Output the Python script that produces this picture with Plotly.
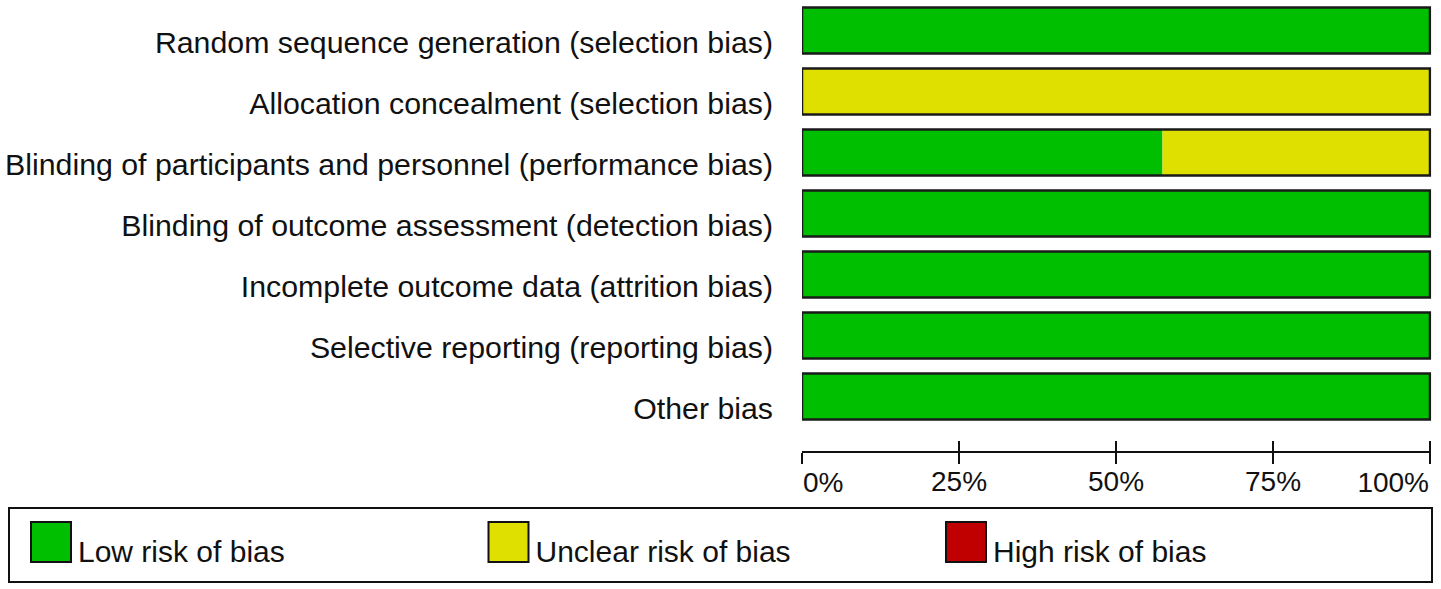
import plotly.graph_objects as go

domains = [
    "Random sequence generation (selection bias)",
    "Allocation concealment (selection bias)",
    "Blinding of participants and personnel (performance bias)",
    "Blinding of outcome assessment (detection bias)",
    "Incomplete outcome data (attrition bias)",
    "Selective reporting (reporting bias)",
    "Other bias",
]
low_risk = [100, 0, 57.4, 100, 100, 100, 100]
unclear_risk = [0, 100, 42.6, 0, 0, 0, 0]
high_risk = [0, 0, 0, 0, 0, 0, 0]

legend_labels = ["Low risk of bias", "Unclear risk of bias", "High risk of bias"]
colors = ["#00BF00", "#DFDF00", "#C00000"]

tick_vals = [0, 25, 50, 75, 100]
tick_text = ["0%", "25%", "50%", "75%", "100%"]

W, H = 1441, 589
FONT = "Liberation Sans, Arial, sans-serif"

fig = go.Figure()

base_unclear = list(low_risk)
base_high = [a + b for a, b in zip(low_risk, unclear_risk)]
totals = [a + b + c for a, b, c in zip(low_risk, unclear_risk, high_risk)]

for vals, base, col in [(low_risk, [0] * len(low_risk), colors[0]),
                        (unclear_risk, base_unclear, colors[1]),
                        (high_risk, base_high, colors[2])]:
    fig.add_trace(go.Bar(y=domains, x=vals, base=base, orientation="h",
                         marker=dict(color=col, line=dict(width=0)),
                         width=0.755, showlegend=False, hoverinfo="skip"))

# outline around each full bar
fig.add_trace(go.Bar(y=domains, x=totals, orientation="h",
                     marker=dict(color="rgba(0,0,0,0)", line=dict(color="#1a1a1a", width=2.5)),
                     width=0.755, showlegend=False, hoverinfo="skip"))

# carriers for the helper x axes (upward ticks, end labels)
for xa in ["x2", "x4", "x5"]:
    fig.add_trace(go.Scatter(x=[0, 100], y=[domains[0], domains[0]], xaxis=xa, yaxis="y",
                             mode="markers", marker=dict(opacity=0), showlegend=False,
                             hoverinfo="skip"))

# carrier for the label axis (labels sit slightly below bar centres)
fig.add_trace(go.Scatter(x=[0] * len(domains), y=domains, xaxis="x", yaxis="y2",
                         mode="markers", marker=dict(opacity=0), showlegend=False, hoverinfo="skip"))

# legend drawn as a scatter row
leg_x = [0, 1, 2]
fig.add_trace(go.Scatter(x=leg_x, y=[0.08] * 3, xaxis="x3", yaxis="y3",
                         mode="markers",
                         marker=dict(symbol="square", size=40, color=colors,
                                     line=dict(color="#111", width=2)),
                         showlegend=False, hoverinfo="skip", cliponaxis=False))
fig.add_trace(go.Scatter(x=[v + 27 / 457.5 for v in leg_x], y=[-0.25] * 3, xaxis="x3", yaxis="y3",
                         mode="text", text=legend_labels, textposition="middle right",
                         textfont=dict(family=FONT, size=30, color="#111"),
                         showlegend=False, hoverinfo="skip", cliponaxis=False))

axis_pos = 1 - 452 / H
x_end = 100.2
x_dom = [802 / W, (802 + 628 * x_end / 100) / W]
y_dom = [1 - 427 / H, 1]
shift = 12 / 61

tick_font = dict(family=FONT, size=28, color="#111")
mid_text = [""] + tick_text[1:-1] + [""]

common_x = dict(domain=x_dom, range=[0, x_end], anchor="free", position=axis_pos,
                automargin=False, showgrid=False, zeroline=False, fixedrange=True)

fig.update_layout(
    width=W, height=H,
    margin=dict(l=0, r=0, t=0, b=0, pad=0),
    paper_bgcolor="white", plot_bgcolor="white",
    barmode="overlay",
    showlegend=False,
    xaxis=dict(**common_x, showline=True, linecolor="#111", linewidth=2,
               ticks="outside", ticklen=11, tickwidth=2, tickcolor="#111",
               tickvals=tick_vals, ticktext=mid_text,
               ticklabeloverflow="allow", ticklabelstandoff=-7, tickfont=tick_font),
    xaxis2=dict(**common_x, overlaying="x", showline=False,
                ticks="inside", ticklen=11, tickwidth=2, tickcolor="#111",
                tickvals=tick_vals, showticklabels=False),
    xaxis4=dict(**common_x, overlaying="x", showline=False,
                ticks="outside", ticklen=11, tickwidth=2, tickcolor="#111",
                tickvals=tick_vals[:1], ticktext=tick_text[:1],
                ticklabelposition="outside right", ticklabeloverflow="allow",
                ticklabelstandoff=5, tickfont=tick_font),
    xaxis5=dict(**common_x, overlaying="x", showline=False,
                ticks="outside", ticklen=11, tickwidth=2, tickcolor="#111",
                tickvals=tick_vals[-1:], ticktext=tick_text[-1:],
                ticklabelposition="outside left", ticklabeloverflow="allow",
                ticklabelstandoff=5, tickfont=tick_font),
    yaxis=dict(domain=y_dom, range=[6.5, -0.5], type="category",
               automargin=False, fixedrange=True,
               categoryorder="array", categoryarray=domains,
               showgrid=False, zeroline=False, showline=False, ticks="",
               showticklabels=False),
    yaxis2=dict(domain=y_dom, range=[6.5 - shift, -0.5 - shift], type="category",
                overlaying="y", anchor="x", side="left", automargin=False, fixedrange=True,
                categoryorder="array", categoryarray=domains,
                showgrid=False, zeroline=False, showline=False, ticks="",
                ticklabelstandoff=28,
                tickfont=dict(family=FONT, size=30.3, color="#111")),
    xaxis3=dict(domain=[0, 1], range=[-51 / 457.5, (W - 51) / 457.5], anchor="y3",
                visible=False, fixedrange=True, automargin=False),
    yaxis3=dict(domain=[1 - 582 / H, 1 - 508 / H], range=[-1, 1], anchor="x3",
                visible=False, fixedrange=True, automargin=False),
    shapes=[dict(type="rect", xref="paper", yref="paper",
                 x0=9 / W, x1=1432 / W, y0=1 - 582 / H, y1=1 - 508 / H,
                 line=dict(color="#111", width=2), fillcolor="rgba(0,0,0,0)")],
)

fig.write_html("out.html", config={"displayModeBar": False},
               post_script="document.body.style.margin='0';document.body.style.overflow='hidden';")
